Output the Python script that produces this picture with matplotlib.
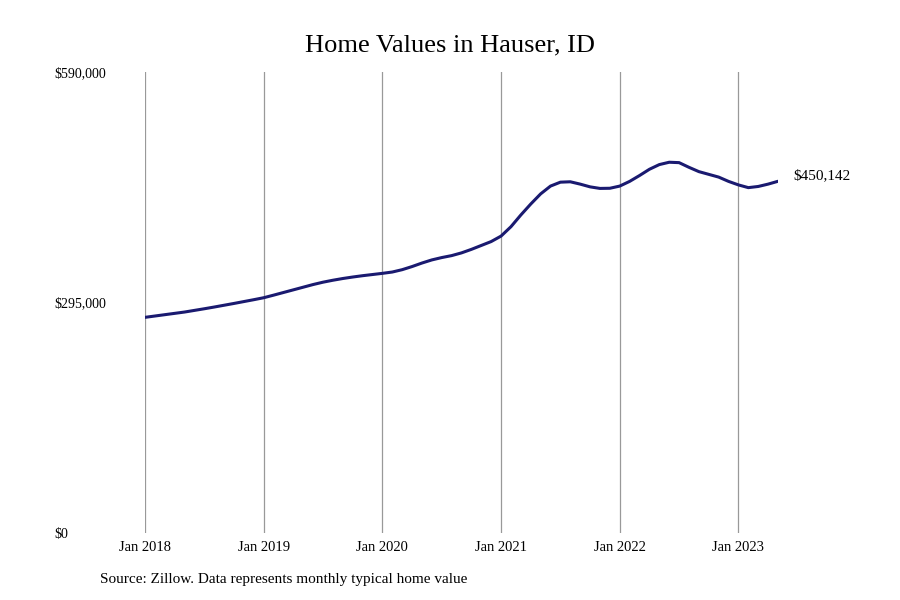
import matplotlib.pyplot as plt

# Monthly typical home value, Jan 2018 - May 2023
values_2018 = [276000, 277700, 279400, 281100, 282800, 284900, 287000, 289200, 291500, 293800, 296200, 298600]
values_2019 = [301100, 304400, 307800, 311200, 314600, 318000, 321000, 323500, 325700, 327600, 329300, 330800]
values_2020 = [332300, 334000, 337000, 341000, 345500, 349500, 352500, 355000, 358500, 363000, 368000, 373000]
values_2021 = [380000, 392000, 407000, 421000, 434000, 444000, 449000, 449500, 446500, 443000, 441000, 441200]
values_2022 = [444000, 450000, 457500, 465500, 471500, 474500, 474000, 468000, 462500, 459000, 455500, 450000]
values_2023 = [445500, 442000, 443500, 446500, 450142]

values = values_2018 + values_2019 + values_2020 + values_2021 + values_2022 + values_2023
months = list(range(len(values)))

year_labels = ['Jan 2018', 'Jan 2019', 'Jan 2020', 'Jan 2021', 'Jan 2022', 'Jan 2023']
year_ticks = [12 * i for i in range(len(year_labels))]
y_ticks = [0, 295000, 590000]
y_labels = ['$0', '$295,000', '$590,000']

plt.rcParams['font.family'] = ['Liberation Serif', 'DejaVu Serif']

fig = plt.figure(figsize=(9, 6), dpi=100)
ax = fig.add_axes([145 / 900, 67 / 600, (778 - 145) / 900, 461 / 600])

ax.plot(months, values, color='#1a1a70', linewidth=2.2, solid_capstyle='round')

ax.set_xlim(0, len(values) - 1)
ax.set_ylim(0, 590000)
ax.set_xticks(year_ticks)
ax.set_xticklabels(year_labels, fontsize=10.5)
ax.set_yticks(y_ticks)
ax.set_yticklabels(y_labels, fontsize=10, ha='left')
ax.tick_params(axis='y', length=0, pad=65)
ax.tick_params(axis='x', length=0, pad=6)
ax.grid(axis='x', color='#999999', linewidth=0.9)
for s in ax.spines.values():
    s.set_visible(False)

# label the last value
ax.annotate(f'${values[-1]:,}', (months[-1], values[-1]), xytext=(11, 4),
            textcoords='offset points', va='center', ha='left', fontsize=11,
            annotation_clip=False)

fig.suptitle('Home Values in Hauser, ID', y=0.943, fontsize=19)
fig.text(100 / 900, 1 - 580 / 600, 'Source: Zillow. Data represents monthly typical home value',
         fontsize=11, va='center')

fig.savefig('out.png', dpi=100)
